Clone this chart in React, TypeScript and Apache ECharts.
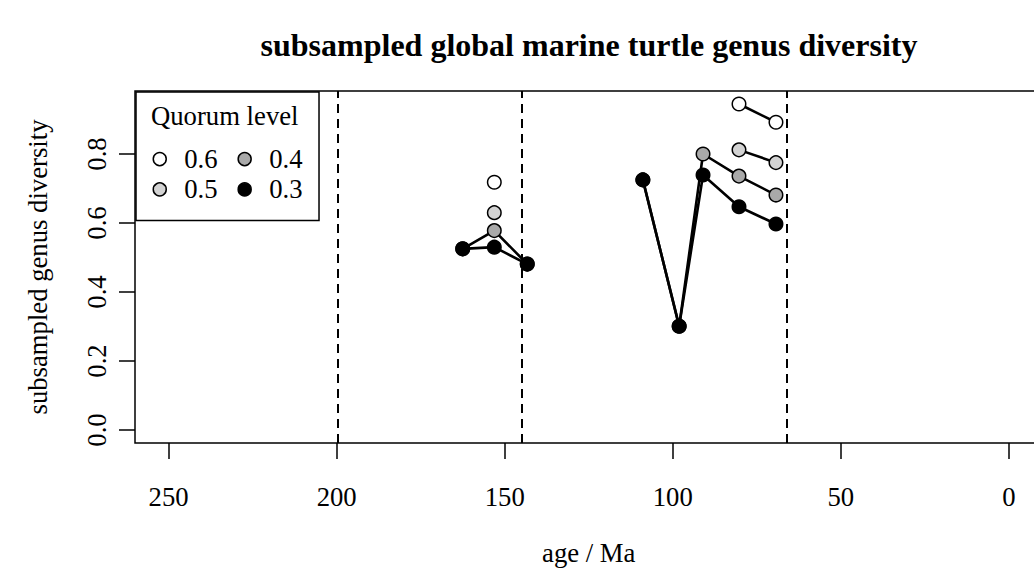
import React, { useEffect, useRef } from "react";
import * as echarts from "echarts";

// stage midpoint ages (Ma); the 126 entry is an empty stage (gap)
const ages = [162.5, 153.1, 143.3, 126, 108.9, 98.1, 91.0, 80.3, 69.3];
const q06 = [null, 0.718, null, null, null, null, null, 0.945, 0.892];
const q05 = [null, 0.63, null, null, null, null, null, 0.812, 0.775];
const q04 = [0.525, 0.578, 0.481, null, 0.725, 0.301, 0.8, 0.736, 0.681];
const q03 = [0.525, 0.53, 0.481, null, 0.725, 0.301, 0.739, 0.647, 0.597];
const quorumNames = ["0.6", "0.5", "0.4", "0.3"];
const quorumColors = ["#ffffff", "#d3d3d3", "#a9a9a9", "#000000"];
const boundaries = [199.6, 145, 66];
const xTicks = [0, 50, 100, 150, 200, 250];
const yTicks = [0, 0.2, 0.4, 0.6, 0.8];

const FONT = "'Liberation Serif', 'DejaVu Serif', serif";
const FS = 26.7;

export default function App() {
  const ref = useRef<HTMLDivElement>(null);
  useEffect(() => {
    if (!ref.current) return;
    const chart = echarts.init(ref.current, undefined, { renderer: "svg" });
    const allSeries = [q06, q05, q04, q03];
    const series: any[] = allSeries.map((vals, i) => ({
      name: quorumNames[i],
      type: "line",
      data: ages.map((a, j) => [a, vals[j] === null ? "-" : vals[j]]),
      symbol: "circle",
      symbolSize: 13.5,
      showSymbol: true,
      connectNulls: false,
      lineStyle: { color: "#000", width: 2.6 },
      itemStyle: { color: quorumColors[i], borderColor: "#000", borderWidth: 1.5 },
      emphasis: { disabled: true },
      z: 3 + i,
    }));
    series[0].markLine = {
      silent: true,
      symbol: ["none", "none"],
      label: { show: false },
      lineStyle: { color: "#000", width: 2, type: [9, 6] },
      data: boundaries.map((b) => ({ xAxis: b })),
    };
    chart.setOption({
      animation: false,
      title: {
        text: "subsampled global marine turtle genus diversity",
        left: 589,
        top: 29,
        padding: 0,
        textAlign: "center",
        textStyle: { fontFamily: FONT, fontWeight: "bold", fontSize: 32, color: "#000" },
      },
      grid: {
        left: 135,
        right: 0.5,
        top: 91,
        bottom: 130,
        show: true,
        borderColor: "#000",
        borderWidth: 1.5,
        backgroundColor: "transparent",
        containLabel: false,
      },
      xAxis: {
        type: "value",
        min: -10,
        max: 260,
        inverse: true,
        name: "age / Ma",
        nameLocation: "middle",
        nameGap: 96,
        nameTextStyle: { fontFamily: FONT, fontSize: FS, color: "#000", lineHeight: 27 },
        axisLine: { show: false, onZero: false },
        splitLine: { show: false },
        axisTick: {
          show: true,
          length: 16,
          customValues: xTicks,
          lineStyle: { color: "#000", width: 1.5 },
        },
        axisLabel: {
          customValues: xTicks,
          margin: 40,
          fontFamily: FONT,
          fontSize: FS,
          lineHeight: 27,
          color: "#000",
        },
      },
      yAxis: {
        type: "value",
        min: -0.0377,
        max: 0.9826,
        name: "subsampled genus diversity",
        nameLocation: "middle",
        nameRotate: 90,
        nameGap: 84,
        nameTextStyle: { fontFamily: FONT, fontSize: FS, color: "#000", lineHeight: 27 },
        axisLine: { show: false, onZero: false },
        splitLine: { show: false },
        axisTick: {
          show: true,
          length: 16,
          customValues: yTicks,
          lineStyle: { color: "#000", width: 1.5 },
        },
        axisLabel: {
          customValues: yTicks,
          rotate: 90,
          margin: 25,
          fontFamily: FONT,
          fontSize: FS,
          lineHeight: 27,
          color: "#000",
          formatter: (v: number) => v.toFixed(1),
        },
      },
      legend: {
        left: 136,
        top: 92,
        orient: "horizontal",
        width: 172,
        data: ["0.6", "0.4", "0.5", "0.3"],
        icon: "circle",
        itemWidth: 13,
        itemHeight: 13,
        itemGap: 3.3,
        itemStyle: { borderColor: "#000", borderWidth: 1.5 },
        padding: [53.6, 0, 17.6, 16.5],
        backgroundColor: "#fff",
        borderColor: "#000",
        borderWidth: 1.5,
        borderRadius: 0,
        selectedMode: false,
        formatter: (name: string) => `${name}{sp|   }`,
        textStyle: {
          fontFamily: FONT,
          fontSize: FS,
          color: "#000",
          padding: [0, 0, 0, 13],
          rich: { sp: { fontSize: 22, fontFamily: FONT } },
        },
        z: 10,
      },
      graphic: [
        {
          type: "text",
          left: 151,
          top: 102,
          z: 100,
          zlevel: 0,
          style: {
            text: "Quorum level",
            fontFamily: FONT,
            fontSize: FS,
            fill: "#000",
          },
        },
      ],
      series,
    });
    return () => chart.dispose();
  }, []);
  return (
    <div
      style={{
        position: "fixed",
        left: 0,
        top: 0,
        width: 1034,
        height: 573,
        overflow: "hidden",
        background: "#fff",
      }}
    >
      <div ref={ref} style={{ width: 1043, height: 573 }} />
    </div>
  );
}
